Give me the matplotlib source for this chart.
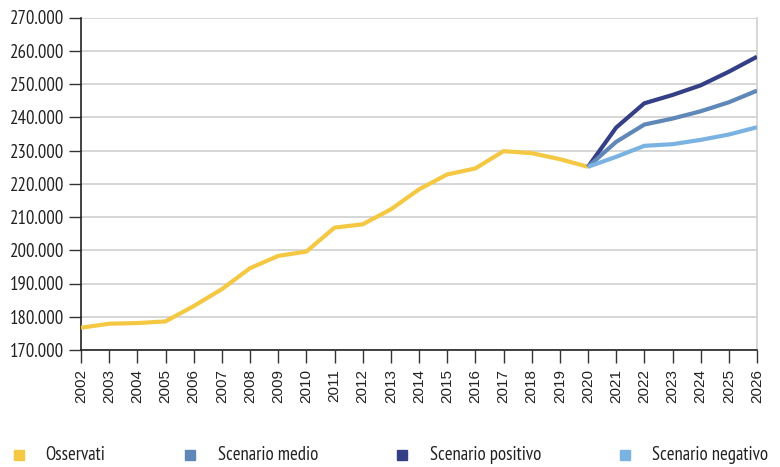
import matplotlib
matplotlib.use("Agg")
import matplotlib.pyplot as plt
from matplotlib.patches import Rectangle
from matplotlib.font_manager import FontProperties

years = list(range(2002, 2027))
obs_years = list(range(2002, 2021))
proj_years = list(range(2020, 2027))

osservati = [176.7, 177.9, 178.1, 178.6, 183.2, 188.3, 194.6, 198.3, 199.6,
             206.8, 207.8, 212.3, 218.3, 222.8, 224.6, 229.8, 229.2, 227.4, 225.1]
scenario_medio = [225.1, 232.6, 237.8, 239.6, 241.8, 244.5, 248.0]
scenario_positivo = [225.1, 236.9, 244.2, 246.7, 249.6, 253.7, 258.2]
scenario_negativo = [225.1, 228.1, 231.4, 231.9, 233.2, 234.8, 237.0]

labels = ["Osservati", "Scenario medio", "Scenario positivo", "Scenario negativo"]
colors = ["#F4C842", "#5F87B7", "#343F86", "#7AB3E1"]

narrow = FontProperties(family=["PT Sans Narrow", "DejaVu Sans"], size=13.5)
plain = FontProperties(family=["Liberation Sans", "DejaVu Sans"], size=11)

fig = plt.figure(figsize=(7.8, 4.67), dpi=100)
ax = fig.add_axes([81 / 780, 1 - 350 / 467, 676 / 780, 332.5 / 467])

ax.plot(obs_years, osservati, color=colors[0], lw=3, solid_capstyle="butt", zorder=3)
ax.plot(proj_years, scenario_positivo, color=colors[2], lw=3, solid_capstyle="butt", zorder=4)
ax.plot(proj_years, scenario_medio, color=colors[1], lw=3, solid_capstyle="butt", zorder=5)
ax.plot(proj_years, scenario_negativo, color=colors[3], lw=3, solid_capstyle="butt", zorder=6)

ax.set_xlim(2002, 2026)
ax.set_ylim(170, 270)
yt = list(range(170, 271, 10))
ax.set_yticks(yt)
ax.set_yticklabels([f"{v}.000" for v in yt], fontproperties=narrow, color="#222222")
ax.set_xticks(years)
ax.set_xticklabels([str(y) for y in years], rotation=90, fontproperties=plain, color="#222222")
ax.grid(axis="y", color="#d0d0d0", lw=1.2)
ax.set_axisbelow(True)
for s in ("left", "bottom"):
    ax.spines[s].set_color("#222222")
    ax.spines[s].set_linewidth(1.2)
ax.spines["top"].set_visible(False)
ax.spines["right"].set_color("#d0d0d0")
ax.spines["right"].set_linewidth(1.2)
ax.tick_params(axis="x", direction="out", length=9, width=1, color="#333333", pad=5)
ax.tick_params(axis="y", direction="out", length=9, width=1, color="#333333", pad=3)

# legend row below the axes
mark_x = [14, 185, 397, 620]
text_x = [45, 218, 430, 652]
for mx, tx, lab, c in zip(mark_x, text_x, labels, colors):
    fig.patches.append(Rectangle((mx / 780, 1 - 460 / 467), 10 / 780, 10 / 467,
                                 transform=fig.transFigure, color=c))
    fig.text(tx / 780, 1 - 455 / 467, lab, fontproperties=narrow,
             color="#222222", va="center", ha="left")

fig.savefig("out.png", dpi=100)
